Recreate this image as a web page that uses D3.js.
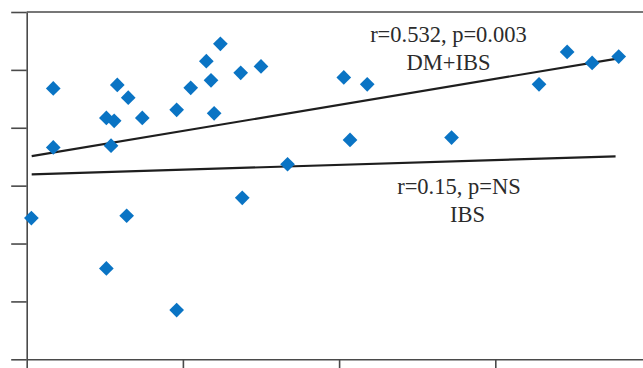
<!DOCTYPE html>
<meta charset='utf-8'>
<style>
    body {
        margin: 0;
        background: #fff;
    }
    text {
        font-family: 'Liberation Serif', 'Times New Roman', serif;
        fill: #2b2b2b;
    }
    .axis path, .axis line {
        stroke: #4a4a4a;
        stroke-width: 1.6px;
    }
</style>
<body>
<div id='container'></div>
<script src='https://d3js.org/d3.v7.min.js'></script>
<script>
    // Scatter values (x, y)
    const xValues = [ 0.03, 0.17, 0.17, 0.51, 0.51, 0.54, 0.56, 0.58, 0.64, 0.65,
        0.74, 0.96, 0.96, 1.05, 1.15, 1.18, 1.20, 1.24, 1.37, 1.38,
        1.50, 1.67, 2.03, 2.07, 2.18, 2.72, 3.28, 3.46, 3.62, 3.79 ];
    const yValues = [ 2.44, 4.68, 3.66, 4.17, 1.57, 3.69, 4.12, 4.74, 2.48, 4.52,
        4.17, 4.31, 0.85, 4.69, 5.15, 4.82, 4.25, 5.45, 4.95, 2.79,
        5.06, 3.37, 4.87, 3.79, 4.75, 3.83, 4.75, 5.31, 5.12, 5.23 ];

    // Regression lines: [ x0, y0, x1, y1 ]
    const fitLabels = [ 'DM+IBS', 'IBS' ];
    const fitLines = [
        [ 0.032, 3.51, 3.79, 5.20 ],
        [ 0.032, 3.195, 3.77, 3.506 ],
    ];
    const annotations = [
        { lines: [ 'r=0.532, p=0.003', 'DM+IBS' ], x: [ 2.70, 2.70 ], y: [ 5.485, 4.997 ] },
        { lines: [ 'r=0.15, p=NS', 'IBS' ], x: [ 2.767, 2.822 ], y: [ 2.85, 2.376 ] },
    ];

    const xTicks = [ 0, 1, 2, 3 ],
        yTicks = [ 0, 1, 2, 3, 4, 5, 6 ];

    const width = 643, height = 368;

    let xScale = d3.scaleLinear()
        .domain( [ 0, 3.9456 ] )
        .range( [ 26.7, width ] );
    let yScale = d3.scaleLinear()
        .domain( [ 0, 6 ] )
        .range( [ 359.3, 12 ] );

    let svg = d3.select( '#container' )
        .append( 'svg' )
        .attr( 'width', width )
        .attr( 'height', height );

    // Top frame line
    svg.append( 'line' )
        .attr( 'x1', xScale( 0 ) )
        .attr( 'x2', width )
        .attr( 'y1', yScale( 6 ) )
        .attr( 'y2', yScale( 6 ) )
        .style( 'stroke', '#4a4a4a' )
        .style( 'stroke-width', 1.6 );

    svg.append( 'g' )
        .attr( 'class', 'y axis' )
        .attr( 'transform', `translate( ${xScale( 0 )}, 0 )` )
        .call( d3.axisLeft( yScale )
            .tickValues( yTicks )
            .tickSize( 15.5 )
            .tickSizeOuter( 0 )
            .tickFormat( '' ) );

    svg.append( 'g' )
        .attr( 'class', 'x axis' )
        .attr( 'transform', `translate( 0, ${yScale( 0 )} )` )
        .call( d3.axisBottom( xScale )
            .tickValues( xTicks )
            .tickSize( 10 )
            .tickSizeOuter( 0 )
            .tickFormat( '' ) );

    // Fit lines
    svg.selectAll( '.fit' )
        .data( fitLines )
        .enter().append( 'line' )
            .attr( 'class', 'fit' )
            .attr( 'x1', d => xScale( d[0] ) )
            .attr( 'y1', d => yScale( d[1] ) )
            .attr( 'x2', d => xScale( d[2] ) )
            .attr( 'y2', d => yScale( d[3] ) )
            .style( 'stroke', '#1e1e1e' )
            .style( 'stroke-width', 2.2 );

    // Points as diamonds
    const diamond = d3.symbol( d3.symbolSquare, 108 );
    svg.selectAll( '.pt' )
        .data( xValues.map( ( x, i ) => [ x, yValues[i] ] ) )
        .enter().append( 'path' )
            .attr( 'class', 'pt' )
            .attr( 'd', diamond )
            .attr( 'transform', d => `translate( ${xScale( d[0] )}, ${yScale( d[1] )} ) rotate( 45 )` )
            .style( 'fill', '#0a74c4' );

    // Annotations
    annotations.forEach( a => {
        a.lines.forEach( ( t, i ) => {
            svg.append( 'text' )
                .attr( 'x', xScale( a.x[i] ) )
                .attr( 'y', yScale( a.y[i] ) )
                .attr( 'text-anchor', 'middle' )
                .style( 'font-size', '22.5px' )
                .text( t );
        } );
    } );
</script>
</body>
